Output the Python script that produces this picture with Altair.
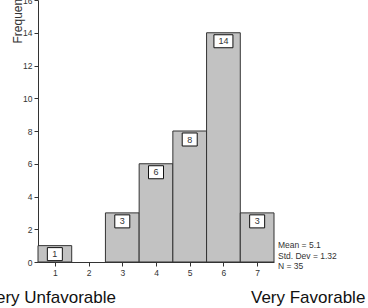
import altair as alt
import pandas as pd
import numpy as np

# Rating scale (1 = very unfavorable ... 7 = very favorable) and response counts
ratings = [1, 2, 3, 4, 5, 6, 7]
counts = [1, 0, 3, 6, 8, 14, 3]
freq_ticks = [0, 2, 4, 6, 8, 10, 12, 14, 16]

df = pd.DataFrame({"rating": ratings, "count": counts})

# Summary statistics from the responses
values = np.repeat(ratings, counts)
n = int(values.size)
mean = values.mean()
sd = values.std(ddof=1)
stats = pd.DataFrame({
    "txt": [f"Mean = {mean:.1f}\nStd. Dev = {sd:.2f}\nN = {n}"],
})

FONT = "Liberation Sans"
INK = "#333333"

x_scale = alt.Scale(domain=[0.5, 7.5], nice=False, zero=False)
y_scale = alt.Scale(domain=[0, 16], nice=False)

# One axis definition shared by every layer so the merged axes keep it
x_axis = alt.Axis(values=ratings, title=None, format="d", tickSize=4,
                  labelPadding=2, labelOverlap=False)
y_axis = alt.Axis(values=freq_ticks, title="Frequency", format="d",
                  tickSize=4, labelPadding=2, labelOverlap=False,
                  titleX=-17, titleY=43, titleAngle=270,
                  titleAlign="left", titleBaseline="alphabetic",
                  titleFont=FONT, titleFontSize=12,
                  titleFontWeight="normal", titleColor=INK)

base = alt.Chart(df).transform_filter("datum.count > 0")

bars = base.transform_calculate(
    lo="datum.rating - 0.5", hi="datum.rating + 0.5"
).mark_bar(fill="#c2c2c2", stroke=INK, strokeWidth=1).encode(
    x=alt.X("lo:Q", scale=x_scale, axis=x_axis),
    x2="hi:Q",
    y=alt.Y("count:Q", scale=y_scale, axis=y_axis),
    y2=alt.datum(0),
)

# White count boxes just below the top of each bar
boxes = base.transform_calculate(
    box="length(toString(datum.count)) > 1 ? 'M-1,-0.684H1V0.684H-1Z' : 'M-1,-0.867H1V0.867H-1Z'",
    boxsize="length(toString(datum.count)) > 1 ? 361 : 225",
).mark_point(filled=True, fill="white", stroke="#111111", strokeWidth=1,
             opacity=1, yOffset=8.5).encode(
    x=alt.X("rating:Q", scale=x_scale, axis=x_axis),
    y=alt.Y("count:Q", scale=y_scale, axis=y_axis),
    shape=alt.Shape("box:N", scale=None),
    size=alt.Size("boxsize:Q", scale=None),
)

labels = base.mark_text(font=FONT, fontSize=9, color=INK, baseline="middle",
                        dy=8.5).encode(
    x=alt.X("rating:Q", scale=x_scale, axis=x_axis),
    y=alt.Y("count:Q", scale=y_scale, axis=y_axis),
    text=alt.Text("count:Q"),
)

stat_text = alt.Chart(stats).mark_text(
    font=FONT, fontSize=8.5, color=INK, align="left", baseline="middle",
    lineBreak="\n", lineHeight=10.3,
).encode(
    x=alt.value(240),
    y=alt.value(245.3),
    text="txt:N",
)

ends = pd.DataFrame({"txt": ["Very Unfavorable", "Very Favorable"],
                     "side": ["left", "right"]})
left_end = alt.Chart(ends).transform_filter("datum.side == 'left'").mark_text(
    font=FONT, fontSize=17, color="#111111", align="right", baseline="alphabetic"
).encode(x=alt.value(78), y=alt.value(303), text="txt:N")
right_end = alt.Chart(ends).transform_filter("datum.side == 'right'").mark_text(
    font=FONT, fontSize=17, color="#111111", align="left", baseline="alphabetic"
).encode(x=alt.value(213), y=alt.value(303), text="txt:N")

chart = alt.layer(bars, boxes, labels, stat_text, left_end, right_end).properties(
    width=236, height=262,
    autosize=alt.AutoSizeParams(type="none"),
    padding={"left": 38, "top": 0, "right": 94, "bottom": 46},
).configure_view(stroke=None).configure_axis(
    grid=False,
    labelFont=FONT, labelFontSize=8.5, labelColor=INK,
    domainColor=INK, tickColor=INK, domainWidth=1, tickWidth=1,
)

chart.save("out.html", embed_options={"renderer": "svg", "actions": False})
